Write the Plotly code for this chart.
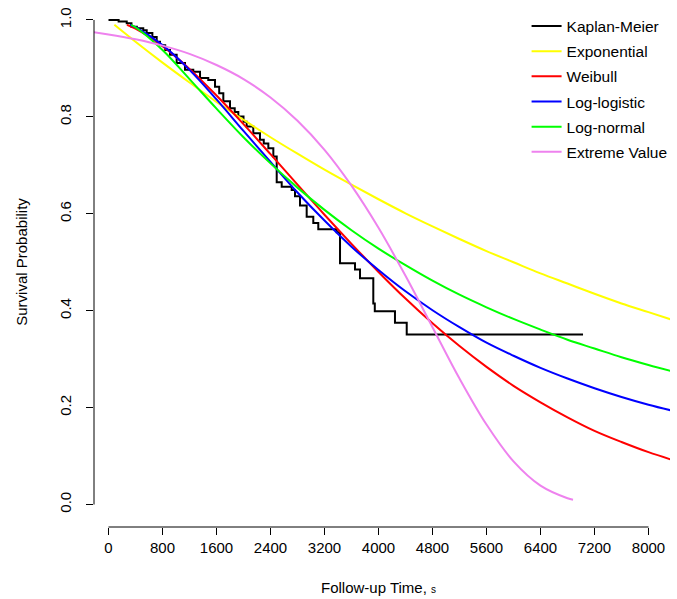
import plotly.graph_objects as go

# Kaplan-Meier estimate (step function)
km_time = [0, 150, 270, 340, 420, 515, 566, 650, 714, 763, 840, 911, 1010, 1133, 1256, 1356,
           1478, 1578, 1640, 1701, 1800, 1870, 1923, 2000, 2047, 2145, 2244, 2300, 2368, 2442,
           2492, 2566, 2714, 2763, 2837, 2936, 3034, 3108, 3381, 3430, 3652, 3726, 3923, 3945,
           4244, 4418, 7030]
km_surv = [1.0, 0.997, 0.993, 0.986, 0.983, 0.979, 0.973, 0.965, 0.955, 0.948, 0.938, 0.928,
           0.911, 0.897, 0.893, 0.880, 0.876, 0.862, 0.849, 0.832, 0.818, 0.810, 0.801, 0.790,
           0.780, 0.766, 0.753, 0.745, 0.735, 0.718, 0.665, 0.656, 0.649, 0.636, 0.617, 0.594,
           0.581, 0.568, 0.562, 0.498, 0.485, 0.467, 0.415, 0.399, 0.375, 0.351, 0.351]

# Fitted parametric survival curves
grid = [400, 800, 1200, 1600, 2000, 2400, 2800, 3200, 3600, 4000, 4400, 4800,
        5200, 5600, 6000, 6400, 6800, 7200, 7600, 8000, 8400]

exp_time = [87] + grid
exp_surv = [0.990, 0.955, 0.912, 0.871, 0.831, 0.794, 0.758, 0.724, 0.691, 0.660, 0.630,
            0.601, 0.574, 0.548, 0.523, 0.500, 0.477, 0.456, 0.435, 0.415, 0.397, 0.379]

weib_time = [273] + grid
weib_surv = [0.990, 0.982, 0.946, 0.899, 0.844, 0.785, 0.723, 0.660, 0.598, 0.538, 0.480,
             0.425, 0.374, 0.327, 0.284, 0.245, 0.211, 0.180, 0.152, 0.129, 0.108, 0.090]

llog_time = [322] + grid
llog_surv = [0.990, 0.985, 0.948, 0.897, 0.836, 0.771, 0.707, 0.644, 0.586, 0.532, 0.484,
             0.440, 0.401, 0.366, 0.334, 0.307, 0.282, 0.260, 0.240, 0.222, 0.206, 0.192]

lnorm_time = [335] + grid
lnorm_surv = [0.990, 0.985, 0.938, 0.878, 0.817, 0.758, 0.704, 0.654, 0.608, 0.566, 0.528,
              0.494, 0.462, 0.433, 0.407, 0.383, 0.361, 0.340, 0.322, 0.304, 0.288, 0.273]

ev_time = [-400, 0, 400, 800, 1200, 1600, 2000, 2400, 2800, 3200, 3600, 4000, 4400,
           4800, 5200, 5600, 6000, 6400, 6800, 6882]
ev_surv = [0.978, 0.970, 0.960, 0.947, 0.930, 0.907, 0.878, 0.840, 0.792, 0.732, 0.658,
           0.571, 0.472, 0.366, 0.260, 0.165, 0.089, 0.039, 0.013, 0.010]

x_ticks = [0, 800, 1600, 2400, 3200, 4000, 4800, 5600, 6400, 7200, 8000]
y_ticks = [0.0, 0.2, 0.4, 0.6, 0.8, 1.0]
y_labels = ["0.0", "0.2", "0.4", "0.6", "0.8", "1.0"]

FONT = "Arial, Liberation Sans, sans-serif"

series = [
    ("Kaplan-Meier", km_time, km_surv, "black", "hv"),
    ("Exponential", exp_time, exp_surv, "#FFFF00", "spline"),
    ("Weibull", weib_time, weib_surv, "#FF0000", "spline"),
    ("Log-logistic", llog_time, llog_surv, "#0000FF", "spline"),
    ("Log-normal", lnorm_time, lnorm_surv, "#00FF00", "spline"),
    ("Extreme Value", ev_time, ev_surv, "#EE82EE", "spline"),
]

fig = go.Figure()
for i, (name, t, s, col, shape) in enumerate(series):
    fig.add_trace(go.Scatter(
        x=t, y=s, mode="lines", name=name, legendgroup=f"g{i}",
        line=dict(color=col, width=2, shape=shape),
    ))

fig.update_layout(
    width=677, height=599,
    margin=dict(l=94, r=7, t=0, b=71.5),
    plot_bgcolor="white", paper_bgcolor="white",
    font=dict(family=FONT, size=15, color="black"),
    showlegend=True,
    legend=dict(
        x=0.751, y=0.982, xanchor="left", yanchor="top",
        bgcolor="rgba(0,0,0,0)", borderwidth=0,
        font=dict(family=FONT, size=15.5, color="black"),
        tracegroupgap=2, itemwidth=30,
    ),
    xaxis=dict(
        range=[-214.8, 8318.5], showgrid=False, zeroline=False, showline=False,
        tickmode="array", tickvals=x_ticks, ticks="outside", ticklen=7,
        tickwidth=1, tickcolor="black", tickfont=dict(size=15),
    ),
    yaxis=dict(
        range=[-0.0464, 1.0412], showgrid=False, zeroline=False, showline=False,
        tickmode="array", tickvals=y_ticks, ticktext=y_labels, ticks="outside",
        ticklen=7, tickwidth=1, tickcolor="black", tickangle=-90,
        tickfont=dict(size=15), ticklabelstandoff=9,
    ),
    shapes=[
        dict(type="line", xref="x", yref="paper", x0=x_ticks[0], x1=x_ticks[-1],
             y0=0, y1=0, line=dict(color="black", width=1)),
        dict(type="line", xref="paper", yref="y", x0=0, x1=0,
             y0=y_ticks[0], y1=y_ticks[-1], line=dict(color="black", width=1)),
    ],
    annotations=[
        dict(text="Survival Probability", xref="paper", yref="paper",
             x=(22 - 94) / 576, y=1 - 262 / 527.5, textangle=-90, showarrow=False,
             xanchor="center", yanchor="middle", font=dict(size=15)),
        dict(text="Follow-up Time, <span style='font-size:10px'>s</span>",
             xref="paper", yref="paper", x=(378 - 94) / 576, y=1 - 588 / 527.5,
             showarrow=False, xanchor="center", yanchor="middle", font=dict(size=15)),
    ],
)

fig.write_html("out.html")
